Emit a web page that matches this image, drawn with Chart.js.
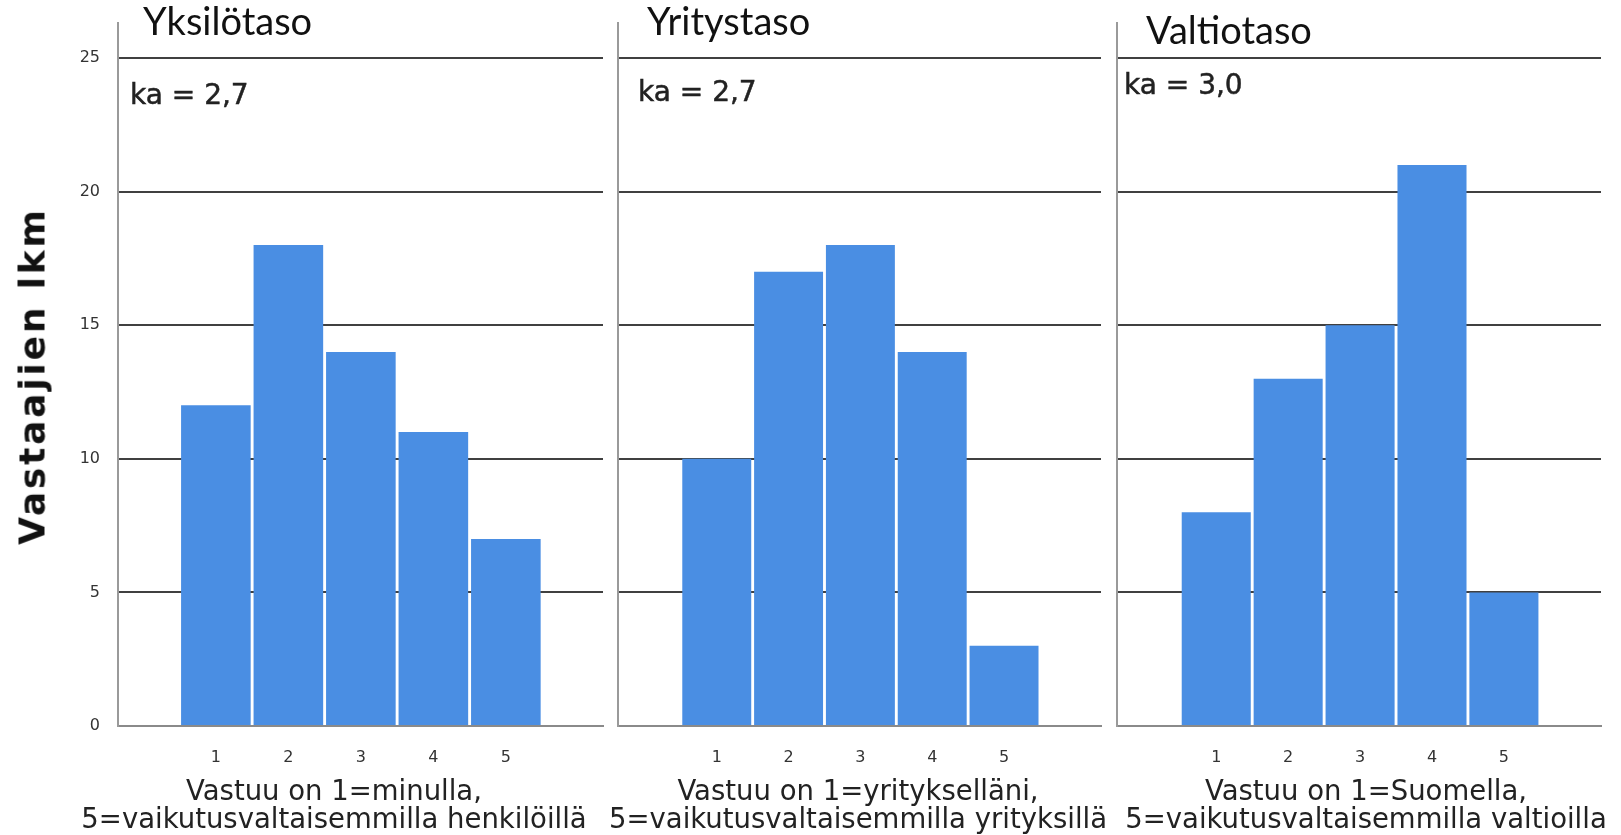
<!DOCTYPE html>
<html><head><meta charset="utf-8">
<script src="https://cdn.jsdelivr.net/npm/chart.js@4"></script>
<style>
body{margin:0;background:#fff;width:1621px;height:835px;overflow:hidden;position:relative;font-family:"DejaVu Sans";}
.c{position:absolute;top:0;height:835px;}
.t{position:absolute;font-family:Lato;font-size:38px;line-height:38px;color:#111;white-space:nowrap;}
.ka{position:absolute;font-size:28px;line-height:28px;color:#222;white-space:nowrap;-webkit-text-stroke:0.5px #222;}
.xt{position:absolute;top:776px;font-size:27.5px;color:#222;text-align:center;line-height:28px;white-space:nowrap;transform:translateX(-50%);}
.yl{position:absolute;left:32px;top:376px;font-weight:bold;font-size:36px;letter-spacing:2.8px;color:#111;transform:translate(-50%,-50%) rotate(-90deg);white-space:nowrap;}
</style></head>
<body>
<div class="c" style="left:0;width:620px"><canvas id="c1" width="620" height="835"></canvas></div>
<div class="c" style="left:600px;width:520px"><canvas id="c2" width="520" height="835"></canvas></div>
<div class="c" style="left:1100px;width:521px"><canvas id="c3" width="521" height="835"></canvas></div>
<div class="t" style="left:143px;top:1px">Yksilötaso</div>
<div class="t" style="left:647px;top:1px">Yritystaso</div>
<div class="t" style="left:1146px;top:10px">Valtiotaso</div>
<div class="ka" style="left:130px;top:81px">ka = 2,7</div>
<div class="ka" style="left:638px;top:78px">ka = 2,7</div>
<div class="ka" style="left:1124px;top:71px">ka = 3,0</div>
<div class="yl">Vastaajien lkm</div>
<div class="xt" style="left:334px">Vastuu on 1=minulla,<br>5=vaikutusvaltaisemmilla henkilöillä</div>
<div class="xt" style="left:858px">Vastuu on 1=yritykselläni,<br>5=vaikutusvaltaisemmilla yrityksillä</div>
<div class="xt" style="left:1366px">Vastuu on 1=Suomella,<br>5=vaikutusvaltaisemmilla valtioilla</div>
<script>
const categories = [1, 2, 3, 4, 5];
const yksilotaso = [12, 18, 14, 11, 7];
const yritystaso = [10, 17, 18, 14, 3];
const valtiotaso = [8, 13, 15, 21, 5];
const yTicks = [0, 5, 10, 15, 20, 25];

function makeChart(id, values, opts) {
  new Chart(document.getElementById(id), {
    type: 'bar',
    data: {
      datasets: [{
        data: values.map((v, i) => ({ x: categories[i], y: v })),
        backgroundColor: '#4a8ee3',
        borderWidth: 0,
        barPercentage: 0.96,
        categoryPercentage: 1
      }]
    },
    options: {
      responsive: false,
      animation: false,
      devicePixelRatio: 1,
      layout: { padding: { top: 23, right: opts.padRight, left: 0, bottom: 0 } },
      plugins: { legend: { display: false }, tooltip: { enabled: false } },
      scales: {
        x: {
          type: 'linear', offset: false, min: opts.xmin, max: opts.xmax,
          afterBuildTicks: s => { s.ticks = categories.map(v => ({ value: v })); },
          afterFit: s => { s.height = 109; s.paddingLeft = 0; s.paddingRight = 0; },
          grid: { display: false },
          border: { display: true, color: '#8a8a8a', width: 2 },
          ticks: { color: '#333', font: { family: 'DejaVu Sans', size: 16 }, padding: 14 }
        },
        y: {
          min: 0, max: 26.31,
          afterBuildTicks: s => { s.ticks = yTicks.map(v => ({ value: v })); },
          afterFit: s => { s.width = opts.yWidth; s.paddingTop = 0; s.paddingBottom = 0; },
          grid: { drawTicks: false, lineWidth: 2, color: c => (c.tick && c.tick.value === 0) ? 'rgba(0,0,0,0)' : '#404040' },
          border: { display: true, color: '#9a9a9a', width: 2 },
          ticks: { display: opts.showY, color: '#333', font: { family: 'DejaVu Sans', size: 16 }, padding: 18 }
        }
      }
    }
  });
}
makeChart('c1', yksilotaso, { xmin: -0.35, xmax: 6.34, padRight: 17, yWidth: 118, showY: true });
makeChart('c2', yritystaso, { xmin: -0.375, xmax: 6.35, padRight: 19, yWidth: 18, showY: false });
makeChart('c3', valtiotaso, { xmin: -0.38, xmax: 6.35, padRight: 20, yWidth: 17, showY: false });
</script>
</body></html>
